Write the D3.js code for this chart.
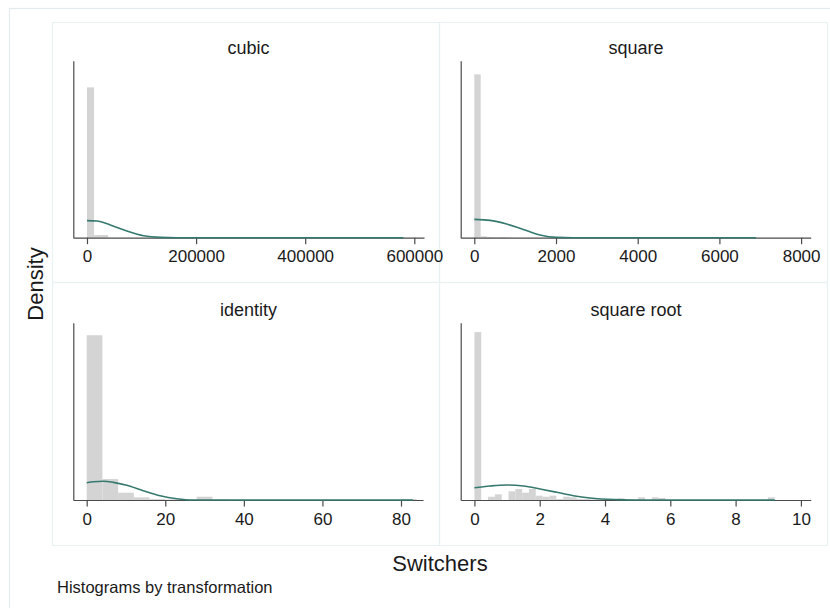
<!DOCTYPE html>
<html>
<head>
<meta charset="utf-8">
<script src="https://cdn.jsdelivr.net/npm/d3@7"></script>
<style>
  body { margin: 0; background: #fff; }
  svg { display: block; font-family: "Liberation Sans", Arial, sans-serif; }
  .axis path, .axis line { stroke: #4a4a4a; stroke-width: 1.2; }
  .axis text { font-size: 17px; fill: #1a1a1a; }
</style>
</head>
<body>
<div id="chart"></div>
<script>
// Histograms of Switchers by transformation, normal density overlaid.
// Heights are densities (y axis is unlabeled).

var panelNames = ["cubic", "square", "identity", "square root"];

var cubicTicks = [0, 200000, 400000, 600000];
var squareTicks = [0, 2000, 4000, 6000, 8000];
var identityTicks = [0, 20, 40, 60, 80];
var sqrtTicks = [0, 2, 4, 6, 8, 10];

// bin widths
var binWidths = [13000, 156.6, 4, 0.209];

// histogram bar heights, bin by bin starting at 0
var cubicBins = [7.38e-5, 1.33e-6, 1.33e-6];
var squareBins = [6.21e-3, 4.9e-5, 2.7e-5, 1.9e-5, 2.7e-5, 1.1e-5, 0, 0, 0, 0,
  0, 0, 0, 0, 0, 0, 0, 0, 0, 0, 0, 0, 0, 0, 0, 0, 0, 0, 0, 0,
  0, 0, 0, 0, 0, 0, 0, 0, 0, 0, 0, 0, 0, 1.9e-5];
var identityBins = [0.2035, 0.0259, 0.0090, 0.0033, 0.0012, 0.0006, 0.0006,
  0.0041, 0.0006, 0, 0, 0, 0, 0, 0, 0, 0, 0, 0, 0, 0.0012];
var sqrtBins = [3.22, 0, 0.063, 0.109, 0, 0.167, 0.211, 0.140, 0.211, 0.083,
  0.063, 0.083, 0.019, 0.063, 0.052, 0.019, 0.019, 0.010, 0.010, 0.010,
  0, 0.033, 0, 0.010, 0.052, 0, 0.052, 0.038, 0, 0,
  0, 0, 0, 0, 0, 0, 0, 0, 0, 0, 0, 0, 0, 0.052];

// normal density curves
var cubicCurveX = [0, 18315, 42735, 73260, 103785, 134310, 164835, 580000];
var cubicCurveY = [8.36e-6, 8.21e-6, 6.25e-6, 3.30e-6, 9.8e-7, 1.5e-7, 0, 0];
var squareCurveX = [0, 383, 791, 1199, 1607, 2015, 2423, 6900];
var squareCurveY = [6.96e-4, 6.58e-4, 5.21e-4, 3.16e-4, 1.03e-4, 1.1e-5, 0, 0];
var identityCurveX = [0, 1.7, 4.24, 6.78, 10.2, 14.4, 18.7, 22.9, 27.1, 83];
var identityCurveY = [0.0213, 0.0226, 0.0231, 0.0218, 0.0181, 0.0115, 0.0053, 0.0016, 0, 0];
var sqrtCurveX = [0, 0.48, 0.99, 1.5, 2.01, 2.52, 3.03, 3.54, 4.05, 4.56, 5.5, 9.2];
var sqrtCurveY = [0.236, 0.269, 0.288, 0.269, 0.211, 0.148, 0.083, 0.038, 0.013, 0.003, 0, 0];

var xDomains = [[-25092, 617765], [-333, 8235], [-3.41, 85.6], [-0.42, 10.3]];
var yMaxes = [8.69e-5, 6.73e-3, 0.219, 3.40];

var W = 830, H = 608;
var svg = d3.select("#chart").append("svg")
    .attr("width", W)
    .attr("height", H);

// outer frame
svg.append("rect")
    .attr("x", 9.5).attr("y", 8.5)
    .attr("width", 840).attr("height", 620)
    .attr("fill", "none").attr("stroke", "#e2ebed").attr("stroke-width", 1.2);

var cells = [
  {x: 52, y: 22, w: 387, h: 260},
  {x: 439, y: 22, w: 388, h: 260},
  {x: 52, y: 282, w: 387, h: 263},
  {x: 439, y: 282, w: 388, h: 263}
];
var plots = [
  {x0: 73.3, x1: 424, top: 60.7, base: 237.7},
  {x0: 460.7, x1: 810.7, top: 60.7, base: 237.7},
  {x0: 73.3, x1: 423, top: 322.7, base: 500},
  {x0: 460.7, x1: 810.7, top: 322.7, base: 500}
];
var allTicks = [cubicTicks, squareTicks, identityTicks, sqrtTicks];
var allBins = [cubicBins, squareBins, identityBins, sqrtBins];
var allCurveX = [cubicCurveX, squareCurveX, identityCurveX, sqrtCurveX];
var allCurveY = [cubicCurveY, squareCurveY, identityCurveY, sqrtCurveY];
var titleY = [54, 54, 316, 316];

cells.forEach(function(c) {
    svg.append("rect")
        .attr("x", c.x + 0.5).attr("y", c.y + 0.5)
        .attr("width", c.w).attr("height", c.h)
        .attr("fill", "none").attr("stroke", "#eaf1f2").attr("stroke-width", 1.2);
});

panelNames.forEach(function(name, p) {
    var pl = plots[p];
    var x = d3.scaleLinear().domain(xDomains[p]).range([pl.x0, pl.x1]);
    var y = d3.scaleLinear().domain([0, yMaxes[p]]).range([pl.base, pl.top]);
    var g = svg.append("g");

    // title
    g.append("text")
        .attr("x", (cells[p].x + cells[p].x + cells[p].w) / 2 + 3)
        .attr("y", titleY[p])
        .attr("text-anchor", "middle")
        .style("font-size", "18px")
        .style("fill", "#1a1a1a")
        .text(name);

    // bars
    var bw = binWidths[p];
    g.selectAll(".bar")
        .data(allBins[p]).enter()
        .append("rect")
            .attr("class", "bar")
            .attr("x", function(d, i) { return x(i * bw); })
            .attr("width", function(d, i) { return x((i + 1) * bw) - x(i * bw); })
            .attr("y", function(d) { return y(d); })
            .attr("height", function(d) { return pl.base - y(d); })
            .attr("fill", "#d4d4d4");

    // axes
    g.append("g")
        .attr("class", "axis")
        .attr("transform", "translate(0," + pl.base + ")")
        .call(d3.axisBottom(x).tickValues(allTicks[p]).tickFormat(d3.format("d"))
            .tickSize(6.5).tickSizeOuter(0).tickPadding(6));
    g.append("g")
        .attr("class", "axis")
        .attr("transform", "translate(" + pl.x0 + ",0)")
        .call(d3.axisLeft(y).tickValues([]).tickSizeOuter(0));

    // normal density
    var pts = allCurveX[p].map(function(v, i) { return [v, allCurveY[p][i]]; });
    g.append("path")
        .datum(pts)
        .attr("fill", "none")
        .attr("stroke", "#36796f")
        .attr("stroke-width", 1.6)
        .attr("d", d3.line()
            .x(function(d) { return x(d[0]); })
            .y(function(d) { return y(d[1]); })
            .curve(d3.curveMonotoneX));
});

svg.append("text")
    .attr("transform", "translate(43,284) rotate(-90)")
    .attr("text-anchor", "middle")
    .style("font-size", "22px")
    .style("fill", "#1a1a1a")
    .text("Density");

svg.append("text")
    .attr("x", 440).attr("y", 571)
    .attr("text-anchor", "middle")
    .style("font-size", "22px")
    .style("fill", "#1a1a1a")
    .text("Switchers");

svg.append("text")
    .attr("x", 57).attr("y", 593)
    .style("font-size", "16.5px")
    .style("fill", "#1a1a1a")
    .text("Histograms by transformation");
</script>
</body>
</html>
